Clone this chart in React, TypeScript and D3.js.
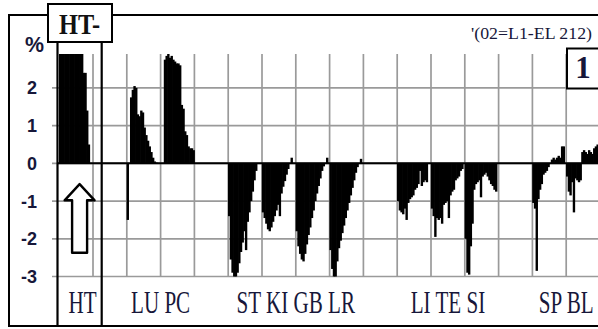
import React from "react";
import * as d3 from "d3";

// ---- data ----
const slots = ["HT", "gap1", "LU", "PC", "gap4", "ST", "KI", "GB", "LR", "gap9", "LI", "TE", "SI", "gap13", "SP", "BL"];
const HT = [2.9, 2.9, 2.9, 2.9, 2.9, 2.9, 2.9, 2.9, 2.9, 2.9, 2.9, 2.9, 2.9, 2.9, 2.4, 2.4, 1.4, 0.5];
const LU = [-1.5, 0, 1.75, 1.95, 2.05, 2.0, 1.3, 1.25, 1.4, 1.35, 0.95, 0.75, 0.6, 0.45, 0.3, 0.15, 0.05, 0.02];
const PC = [0, 0, 2.75, 2.85, 2.9, 2.8, 2.85, 2.75, 2.7, 2.65, 2.65, 2.6, 1.55, 1.45, 0.85, 0.75, 0.45, 0.4, 0.4, 0.35];
const ST = [-1.4, -2.55, -2.9, -3.0, -3.0, -2.9, -2.65, -2.35, -2.1, -1.8, -2.3, -1.55, -1.3, -1.0, -0.75, -0.45, -0.2];
const KI = [-1.3, -1.45, -1.6, -1.75, -1.8, -1.7, -1.55, -1.4, -1.25, -1.1, -1.4, -0.8, -0.62, -0.47, -0.3, -0.15, 0, 0.15];
const GB = [-1.8, -2.2, -2.4, -2.55, -2.6, -2.4, -2.15, -1.9, -1.7, -1.45, -1.25, -1.0, -0.8, -0.6, -0.4, -0.2, -0.08, 0, 0.15];
const LR = [-2.3, -2.8, -3.0, -3.0, -2.6, -2.25, -2.05, -1.85, -1.65, -1.45, -1.25, -1.05, -0.85, -0.65, -0.45, -0.25, -0.1, 0, 0.12];
const LI = [-1.0, -1.25, -1.3, -1.35, -1.2, -1.5, -1.05, -0.95, -0.9, -0.85, -0.7, -0.65, -0.55, -0.2, -0.6, -0.5, -0.45, -0.5];
const TE = [-1.2, -1.4, -1.95, -1.45, -1.5, -1.45, -1.6, -1.1, -1.05, -1.0, -1.45, -0.85, -0.75, -0.7, -0.45, -0.4, -0.35, -0.2, -0.15];
const SI = [-2.0, -2.9, -2.95, -2.2, -1.6, -0.7, -0.55, -0.5, -0.45, -0.9, -0.35, -0.3, -0.25, -0.35, -0.45, -0.55, -0.6, -0.7, -0.75];
const SP = [-1.05, -1.2, -2.85, -0.95, -0.7, -0.55, -0.3, -0.25, -0.2, -0.1, 0, 0.1, 0.15, 0.1, 0.15, 0.2, 0.15, 0.45, 0.45];
const BL = [-0.35, -0.75, -0.85, -0.5, -1.3, -0.4, -0.45, -0.5, -0.45, 0.3, 0.35, 0.3, 0.25, 0.35, 0.3, 0.25, 0.4, 0.45, 0.5];

const series: { slot: string; values: number[] }[] = [
  { slot: "HT", values: HT },
  { slot: "LU", values: LU },
  { slot: "PC", values: PC },
  { slot: "ST", values: ST },
  { slot: "KI", values: KI },
  { slot: "GB", values: GB },
  { slot: "LR", values: LR },
  { slot: "LI", values: LI },
  { slot: "TE", values: TE },
  { slot: "SI", values: SI },
  { slot: "SP", values: SP },
  { slot: "BL", values: BL },
];

const yTicks = [2, 1, 0, -1, -2, -3];
const axisLabels: { text: string; slots: string[] }[] = [
  { text: "HT", slots: ["HT"] },
  { text: "LU PC", slots: ["LU", "PC"] },
  { text: "ST KI GB LR", slots: ["ST", "KI", "GB", "LR"] },
  { text: "LI TE SI", slots: ["LI", "TE", "SI"] },
  { text: "SP BL", slots: ["SP", "BL"] },
];

const W = 598;
const H = 329;
const BARS_PER_SLOT = 20;
const Y_MIN = -3;
const Y_MAX = 2.9;

const SERIF = "'Liberation Serif', 'Times New Roman', serif";
const SANS = "'Liberation Sans', Arial, sans-serif";
const INK = "#17173a";
const GRID = "#9a9a9a";
const LABEL_SQUEEZE = 0.68;

export default function App() {
  const x = d3.scaleBand<string>().domain(slots).range([59.2, 600]);
  const inner = d3
    .scaleBand<number>()
    .domain(d3.range(BARS_PER_SLOT))
    .range([0, x.bandwidth()])
    .paddingInner(0);
  const y = d3.scaleLinear().domain([Y_MIN, Y_MAX]).range([276.5, 54]);
  const y0 = y(0);

  const boxL = 57.5;
  const boxR = 101.7;

  const bars: React.ReactNode[] = [];
  series.forEach((s) => {
    s.values.forEach((v, i) => {
      if (v === 0) return;
      const cv = Math.max(Y_MIN, Math.min(Y_MAX, v));
      const bx = (x(s.slot) as number) + (inner(i) as number);
      const top = Math.min(y(cv), y0);
      const h = Math.abs(y(cv) - y0);
      bars.push(
        <rect key={s.slot + i} x={bx - 0.2} y={top} width={inner.bandwidth() + 0.7} height={h} fill="#000" />
      );
    });
  });

  const ac = (boxL + boxR) / 2;
  const arrow = [
    [ac, y(-0.55)],
    [ac + 15, y(-0.98)],
    [ac + 7.5, y(-0.98)],
    [ac + 7.5, y(-2.37)],
    [ac - 7.5, y(-2.37)],
    [ac - 7.5, y(-0.98)],
    [ac - 15, y(-0.98)],
  ];

  return (
    <svg width={W} height={H} style={{ position: "absolute", left: 0, top: 0, background: "#fff" }}>
      <rect x={0} y={0} width={W} height={H} fill="#fff" />
      {yTicks.map((t) => (
        <line key={"h" + t} x1={52} x2={600} y1={y(t)} y2={y(t)} stroke={GRID} strokeWidth={1.7} />
      ))}
      {slots.slice(1).map((s) => (
        <line key={"v" + s} x1={x(s)} x2={x(s)} y1={y(Y_MAX)} y2={y(Y_MIN)} stroke={GRID} strokeWidth={1.7} />
      ))}
      {bars}
      <line x1={boxL} x2={600} y1={y0} y2={y0} stroke="#000" strokeWidth={2} />
      <rect x={9} y={15} width={600} height={311} fill="none" stroke="#000" strokeWidth={2} />
      <line x1={boxL} x2={boxL} y1={42} y2={326} stroke="#000" strokeWidth={2.2} />
      <line x1={boxR} x2={boxR} y1={42} y2={326} stroke="#000" strokeWidth={2.2} />
      <polygon
        points={arrow.map((p) => p.join(",")).join(" ")}
        fill="#fff"
        stroke="#000"
        strokeWidth={2.4}
        strokeLinejoin="round"
      />
      <rect x={48} y={4} width={64} height={38} fill="#fff" stroke="#000" strokeWidth={2} />
      <text
        x={59}
        y={33.5}
        fontFamily={SERIF}
        fontWeight="bold"
        fontSize={30}
        fill="#111"
        textLength={41}
        lengthAdjust="spacingAndGlyphs"
      >
        HT-
      </text>
      <rect x={567} y={48.5} width={40} height={40} fill="#fff" stroke="#000" strokeWidth={2} />
      <text x={583} y={78} textAnchor="middle" fontFamily={SERIF} fontWeight="bold" fontSize={31} fill={INK}>
        1
      </text>
      <text
        x={471}
        y={39}
        fontFamily={SERIF}
        fontSize={17.5}
        fill={INK}
        textLength={121}
        lengthAdjust="spacingAndGlyphs"
      >
        '(02=L1-EL 212)
      </text>
      <text
        x={25}
        y={52}
        fontFamily={SANS}
        fontWeight="bold"
        fontSize={22}
        fill={INK}
        textLength={19}
        lengthAdjust="spacingAndGlyphs"
      >
        %
      </text>
      {yTicks.map((t) => (
        <text
          key={"yl" + t}
          x={37}
          y={y(t) + 6.5}
          textAnchor="end"
          fontFamily={SANS}
          fontWeight="bold"
          fontSize={18}
          fill={INK}
        >
          {t}
        </text>
      ))}
      {axisLabels.map((l) => {
        const first = x(l.slots[0]) as number;
        const last = (x(l.slots[l.slots.length - 1]) as number) + x.bandwidth();
        const cx = l.text === "HT" ? (boxL + boxR) / 2 + 3 : Math.min((first + last) / 2, 569);
        return (
          <text
            key={l.text}
            transform={`translate(${cx},313) scale(${LABEL_SQUEEZE},1)`}
            textAnchor="middle"
            fontFamily={SERIF}
            fontSize={31}
            fill={INK}
          >
            {l.text}
          </text>
        );
      })}
    </svg>
  );
}
